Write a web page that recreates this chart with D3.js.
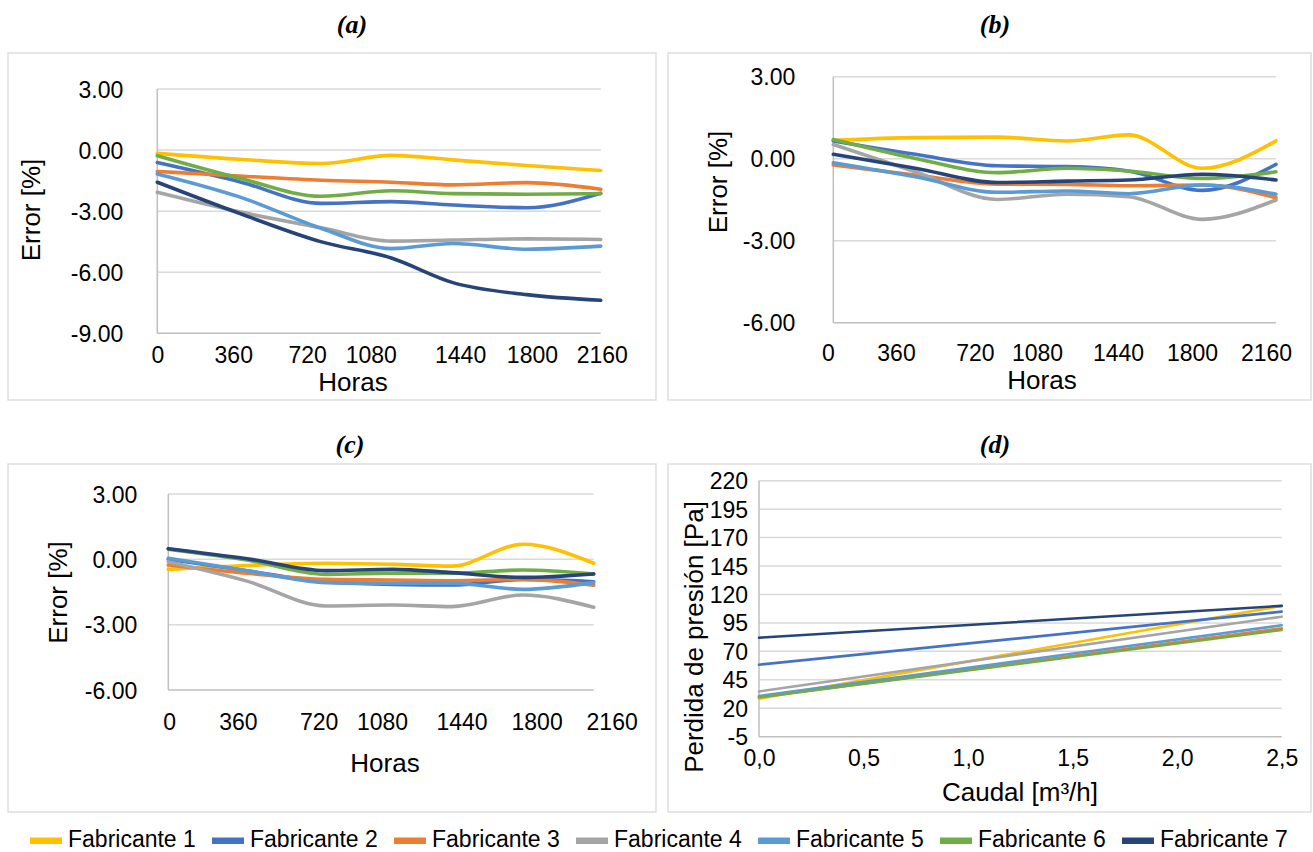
<!DOCTYPE html>
<html><head><meta charset="utf-8">
<script src="https://cdn.jsdelivr.net/npm/d3@7"></script>
<style>html,body{margin:0;padding:0;background:#fff;}svg{display:block;}</style>
</head><body>
<svg id="chart" width="1313" height="852"></svg>
<script>
// ---------------- DATA ----------------
const fabricantes = ["Fabricante 1","Fabricante 2","Fabricante 3","Fabricante 4","Fabricante 5","Fabricante 6","Fabricante 7"];
const colores = ["#FFC000","#4472C4","#ED7D31","#A5A5A5","#5B9BD5","#70AD47","#264478"];

// measurement hours (x) for panels a-c
const horas = [0, 400, 800, 1140, 1440, 1800, 2160];

// panel (a) error [%], one row per fabricante
const errorA = [
  [-0.16,-0.45,-0.66,-0.26,-0.48,-0.76,-1.00],
  [-0.61,-1.55,-2.62,-2.53,-2.70,-2.83,-2.12],
  [-1.05,-1.27,-1.48,-1.58,-1.71,-1.60,-1.92],
  [-2.07,-3.03,-3.82,-4.47,-4.42,-4.36,-4.39],
  [-1.17,-2.30,-3.85,-4.84,-4.59,-4.87,-4.72],
  [-0.28,-1.38,-2.27,-2.00,-2.14,-2.17,-2.14],
  [-1.58,-3.11,-4.51,-5.30,-6.51,-7.10,-7.38]
];
// panel (b)
const errorB = [
  [0.67, 0.77, 0.79, 0.65, 0.87,-0.35, 0.65],
  [0.65, 0.16,-0.26,-0.29,-0.45,-1.16,-0.21],
  [-0.23,-0.60,-0.93,-0.94,-0.99,-0.96,-1.43],
  [0.52,-0.48,-1.49,-1.30,-1.39,-2.22,-1.51],
  [-0.15,-0.66,-1.23,-1.18,-1.28,-0.96,-1.30],
  [0.70, 0.01,-0.51,-0.35,-0.45,-0.72,-0.48],
  [0.16,-0.35,-0.87,-0.82,-0.78,-0.57,-0.78]
];
// panel (c)
const errorC = [
  [-0.46,-0.28,-0.18,-0.23,-0.31, 0.69,-0.18],
  [0.00,-0.52,-1.04,-1.15,-1.18,-0.92,-1.03],
  [-0.26,-0.64,-0.92,-0.95,-0.98,-0.92,-1.19],
  [-0.11,-1.00,-2.14,-2.10,-2.17,-1.64,-2.20],
  [0.05,-0.52,-1.07,-1.10,-1.10,-1.38,-1.07],
  [0.47,-0.03,-0.69,-0.64,-0.64,-0.49,-0.67],
  [0.49, 0.03,-0.52,-0.46,-0.61,-0.83,-0.67]
];
// panel (d): caudal [m3/h] vs perdida de presion [Pa]
const caudal = [0, 2.5];
const perdida = [
  [28.4, 110.0],
  [58.3, 104.9],
  [29.6, 90.2],
  [34.8, 100.5],
  [30.7, 92.9],
  [29.6, 88.8],
  [82.0, 110.0]
];

// tick labels
const horasLabels = ["0","360","720","1080","1440","1800","2160"];
// where (in hours) each label sits along the axis in each panel
const horasLabelAtA = [0, 370, 730, 1040, 1475, 1825, 2165];
const horasLabelAtB = [-26, 306, 691, 994, 1389, 1750, 2111];
const horasLabelAtC = [4, 353, 763, 1085, 1489, 1870, 2251];
const errorTicksA = [3, 0, -3, -6, -9];
const errorTicksBC = [3, 0, -3, -6];
const perdidaTicks = [-5, 20, 45, 70, 95, 120, 145, 170, 195, 220];
const caudalTicks = [0, 0.5, 1.0, 1.5, 2.0, 2.5];

// ---------------- DRAW ----------------
const FONT = '"Liberation Sans", Arial, sans-serif';
const svg = d3.select("#chart");
const GRID = "#d9d9d9", AXIS = "#bfbfbf";

function panel(cfg) {
  const g = svg.append("g");
  g.append("rect").attr("x", cfg.frame[0]).attr("y", cfg.frame[1])
    .attr("width", cfg.frame[2]).attr("height", cfg.frame[3])
    .attr("fill", "#fff").attr("stroke", GRID).attr("stroke-width", 1.3);

  const x = d3.scaleLinear().domain(cfg.xDomain).range([cfg.left, cfg.right]);
  const y = d3.scaleLinear().domain(cfg.yDomain).range([cfg.bottom, cfg.top]);

  // gridlines
  g.selectAll("line.grid").data(cfg.yTicks.filter(t => t !== cfg.yDomain[0]))
    .join("line").attr("class", "grid")
    .attr("x1", cfg.left).attr("x2", cfg.right)
    .attr("y1", d => y(d)).attr("y2", d => y(d))
    .attr("stroke", GRID).attr("stroke-width", 1.5);
  // axis lines
  g.append("line").attr("x1", cfg.left).attr("x2", cfg.right)
    .attr("y1", y(cfg.yDomain[0])).attr("y2", y(cfg.yDomain[0]))
    .attr("stroke", AXIS).attr("stroke-width", 1.5);
  g.append("line").attr("x1", cfg.left).attr("x2", cfg.left)
    .attr("y1", y(cfg.yDomain[0])).attr("y2", y(cfg.yDomain[1]))
    .attr("stroke", AXIS).attr("stroke-width", 1.5);

  // y axis labels
  const ya = d3.axisLeft(y).tickValues(cfg.yTicks).tickSize(0)
    .tickPadding(cfg.yPad).tickFormat(cfg.yFmt);
  const gy = g.append("g").attr("transform", `translate(${cfg.left},0)`).call(ya);
  gy.select(".domain").remove();
  gy.attr("font-family", FONT).attr("font-size", 23);
  gy.selectAll("text").attr("fill", "#000").attr("dy", "0.35em");

  // x axis labels
  const xa = d3.axisBottom(x).tickValues(cfg.xTickPos).tickSize(0)
    .tickFormat((d, i) => cfg.xLabels[i]);
  const gx = g.append("g").attr("transform", `translate(0,${cfg.xLabelY})`).call(xa);
  gx.select(".domain").remove();
  gx.attr("font-family", FONT).attr("font-size", 23);
  gx.selectAll("text").attr("fill", "#000").attr("y", 0).attr("dy", "0.35em");

  // series
  const line = d3.line().x((d, i) => x(cfg.xs[i])).y(d => y(d)).curve(cfg.curve);
  g.selectAll("path.serie").data(cfg.series).join("path").attr("class", "serie")
    .attr("d", d => line(d)).attr("fill", "none")
    .attr("stroke", (d, i) => colores[i]).attr("stroke-width", cfg.lw)
    .attr("stroke-linecap", "round").attr("stroke-linejoin", "round");

  // axis titles
  g.append("text").attr("x", cfg.xTitle[0]).attr("y", cfg.xTitle[1])
    .attr("text-anchor", "middle").attr("dy", "0.35em")
    .attr("font-family", FONT).attr("font-size", 26).attr("fill", "#000").text(cfg.xTitleText);
  g.append("text").attr("transform", `translate(${cfg.yTitle[0]},${cfg.yTitle[1]}) rotate(-90)`)
    .attr("text-anchor", "middle").attr("dy", "0.35em")
    .attr("font-family", FONT).attr("font-size", 26).attr("fill", "#000").text(cfg.yTitleText);

  // panel title
  g.append("text").attr("x", cfg.title[0]).attr("y", cfg.title[1])
    .attr("text-anchor", "middle")
    .attr("font-family", '"Liberation Serif", "Times New Roman", serif')
    .attr("font-weight", "bold").attr("font-style", "italic").attr("font-size", 26)
    .attr("fill", "#000").text(cfg.titleText);
}

const fmt2 = v => v.toFixed(2);
const smooth = d3.curveMonotoneX;

panel({
  frame: [8, 53, 648, 347], left: 157.3, right: 600.7, top: 89, bottom: 333.3,
  xDomain: [0, 2160], yDomain: [-9, 3], yTicks: errorTicksA, yFmt: fmt2, yPad: 34,
  xTickPos: horasLabelAtA, xLabels: horasLabels, xLabelY: 355,
  xs: horas, series: errorA, curve: smooth, lw: 3.6,
  xTitle: [353, 382], xTitleText: "Horas", yTitle: [31, 210], yTitleText: "Error [%]",
  title: [352, 33], titleText: "(a)"
});
panel({
  frame: [668, 53, 643, 347], left: 833.3, right: 1276, top: 76.7, bottom: 322.7,
  xDomain: [0, 2160], yDomain: [-6, 3], yTicks: errorTicksBC, yFmt: fmt2, yPad: 38,
  xTickPos: horasLabelAtB, xLabels: horasLabels, xLabelY: 353,
  xs: horas, series: errorB, curve: smooth, lw: 3.6,
  xTitle: [1042, 380], xTitleText: "Horas", yTitle: [718, 182], yTitleText: "Error [%]",
  title: [995, 33], titleText: "(b)"
});
panel({
  frame: [8, 464, 648, 348], left: 168.3, right: 593.7, top: 494, bottom: 690,
  xDomain: [0, 2160], yDomain: [-6, 3], yTicks: errorTicksBC, yFmt: fmt2, yPad: 31,
  xTickPos: horasLabelAtC, xLabels: horasLabels, xLabelY: 721.7,
  xs: horas, series: errorC, curve: smooth, lw: 3.6,
  xTitle: [385, 763], xTitleText: "Horas", yTitle: [57.5, 592.5], yTitleText: "Error [%]",
  title: [350, 453], titleText: "(c)"
});
panel({
  frame: [668, 464, 643, 348], left: 759, right: 1281.7, top: 480.7, bottom: 736.7,
  xDomain: [0, 2.5], yDomain: [-5, 220], yTicks: perdidaTicks, yFmt: v => String(v), yPad: 11,
  xTickPos: caudalTicks, xLabels: caudalTicks.map(v => v.toFixed(1).replace(".", ",")), xLabelY: 758.3,
  xs: caudal, series: perdida, curve: d3.curveLinear, lw: 2.6,
  xTitle: [1020, 792], xTitleText: "Caudal [m³/h]", yTitle: [694, 637], yTitleText: "Perdida de presión [Pa]",
  title: [995, 453], titleText: "(d)"
});

// legend
const leg = svg.append("g").attr("font-family", FONT).attr("font-size", 23);
const items = leg.selectAll("g").data(fabricantes).join("g")
  .attr("transform", (d, i) => `translate(${30 + i * 182},0)`);
items.append("rect").attr("x", 0).attr("y", 837.5).attr("width", 32).attr("height", 6.5)
  .attr("fill", (d, i) => colores[i]);
items.append("text").attr("x", 38).attr("y", 847.3).attr("fill", "#000").text(d => d);
</script>
</body></html>
